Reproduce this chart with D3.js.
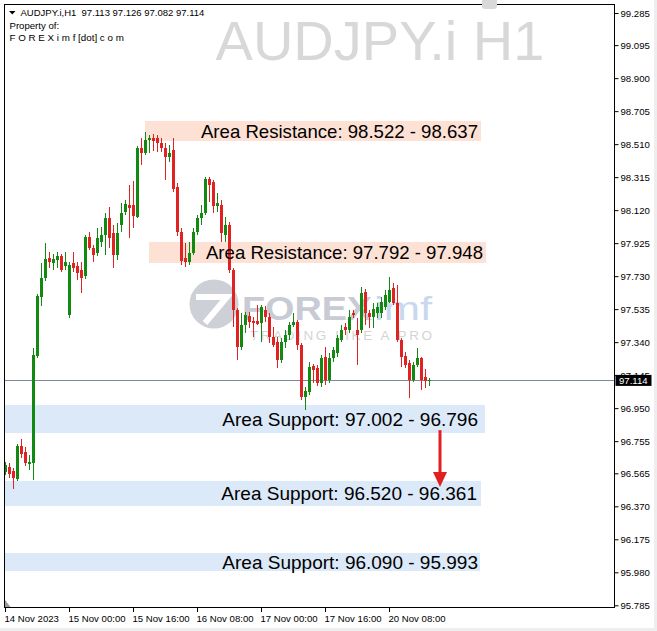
<!DOCTYPE html>
<html><head><meta charset="utf-8">
<script src="https://cdn.jsdelivr.net/npm/d3@7"></script>
<style>
html,body{margin:0;padding:0;background:#fff;}
svg{display:block;font-family:"Liberation Sans",Arial,sans-serif;}
</style></head>
<body><svg id="c" width="657" height="631"></svg>
<script>
// ---------------- DATA ----------------
const opens = [
96.573, 96.602, 96.579, 96.531, 96.726, 96.691, 96.620, 96.626, 97.258, 97.607,
97.719, 97.837, 97.808, 97.825, 97.849, 97.790, 97.501, 97.808, 97.790, 97.766,
97.731, 97.961, 97.896, 97.867, 97.932, 97.973, 98.074, 97.985, 97.855, 98.032,
98.109, 98.150, 98.150, 98.080, 98.487, 98.458, 98.535, 98.546, 98.546, 98.517,
98.487, 98.434, 98.475, 98.257, 97.991, 97.837, 97.814, 97.867, 97.991, 98.074,
98.103, 98.304, 98.286, 98.145, 98.150, 97.973, 98.032, 97.766, 97.530, 97.311,
97.441, 97.495, 97.465, 97.465, 97.453, 97.530, 97.489, 97.370, 97.341, 97.235,
97.341, 97.382, 97.441, 97.459, 97.323, 97.016, 97.045, 97.199, 97.187, 97.099,
97.252, 97.116, 97.246, 97.276, 97.353, 97.430, 97.412, 97.512, 97.412, 97.412,
97.637, 97.512, 97.489, 97.512, 97.512, 97.548, 97.577, 97.660, 97.571, 97.353,
97.258, 97.217, 97.116, 97.205, 97.246, 97.134, 97.113
];
const highs = [
96.632, 96.626, 96.596, 96.738, 96.768, 96.720, 96.673, 97.305, 97.625, 97.808,
97.926, 97.873, 97.861, 97.873, 97.861, 97.873, 97.814, 97.873, 97.814, 97.814,
97.973, 97.991, 97.914, 98.015, 98.020, 98.103, 98.139, 98.032, 98.044, 98.162,
98.180, 98.269, 98.292, 98.499, 98.546, 98.582, 98.564, 98.570, 98.564, 98.546,
98.517, 98.505, 98.546, 98.280, 98.015, 97.926, 97.932, 98.015, 98.091, 98.150,
98.316, 98.316, 98.298, 98.221, 98.180, 98.080, 98.050, 97.778, 97.542, 97.512,
97.518, 97.518, 97.489, 97.560, 97.560, 97.554, 97.512, 97.430, 97.370, 97.364,
97.412, 97.459, 97.512, 97.471, 97.335, 97.075, 97.223, 97.211, 97.205, 97.264,
97.311, 97.276, 97.311, 97.382, 97.441, 97.453, 97.530, 97.530, 97.483, 97.666,
97.654, 97.530, 97.571, 97.571, 97.607, 97.648, 97.725, 97.690, 97.678, 97.364,
97.282, 97.235, 97.223, 97.305, 97.252, 97.181, 97.126
];
const lows = [
96.555, 96.537, 96.472, 96.520, 96.655, 96.608, 96.585, 96.525, 97.246, 97.554,
97.701, 97.778, 97.766, 97.778, 97.755, 97.766, 97.483, 97.755, 97.707, 97.631,
97.713, 97.885, 97.814, 97.849, 97.902, 97.855, 97.896, 97.778, 97.825, 97.991,
98.091, 97.955, 98.015, 98.074, 98.387, 98.446, 98.458, 98.470, 98.464, 98.464,
98.298, 98.405, 98.227, 97.967, 97.796, 97.784, 97.796, 97.855, 97.973, 98.032,
98.091, 98.168, 98.103, 98.109, 97.932, 97.932, 97.749, 97.430, 97.235, 97.294,
97.394, 97.424, 97.370, 97.441, 97.341, 97.459, 97.335, 97.311, 97.187, 97.217,
97.305, 97.353, 97.430, 97.294, 96.998, 96.939, 97.028, 97.099, 97.081, 97.075,
97.087, 97.099, 97.223, 97.252, 97.341, 97.382, 97.394, 97.483, 97.205, 97.394,
97.441, 97.424, 97.424, 97.483, 97.483, 97.530, 97.571, 97.560, 97.341, 97.193,
97.187, 97.010, 97.104, 97.193, 97.057, 97.069, 97.082
];
const closes = [
96.614, 96.561, 96.537, 96.726, 96.679, 96.626, 96.632, 97.264, 97.613, 97.719,
97.831, 97.814, 97.831, 97.849, 97.766, 97.814, 97.796, 97.778, 97.749, 97.719,
97.961, 97.896, 97.855, 97.955, 97.973, 98.074, 97.955, 97.855, 97.985, 98.103,
98.156, 98.133, 98.085, 98.487, 98.458, 98.535, 98.546, 98.529, 98.517, 98.487,
98.434, 98.458, 98.245, 97.991, 97.820, 97.814, 97.867, 97.991, 98.074, 98.103,
98.304, 98.269, 98.145, 98.162, 97.985, 98.032, 97.766, 97.530, 97.311, 97.441,
97.501, 97.459, 97.453, 97.447, 97.548, 97.489, 97.370, 97.323, 97.235, 97.341,
97.382, 97.441, 97.459, 97.323, 97.016, 97.051, 97.193, 97.175, 97.099, 97.246,
97.116, 97.246, 97.294, 97.364, 97.412, 97.412, 97.489, 97.501, 97.382, 97.631,
97.512, 97.489, 97.536, 97.548, 97.577, 97.619, 97.648, 97.571, 97.353, 97.252,
97.205, 97.116, 97.205, 97.246, 97.116, 97.110, 97.114
];

const xTickBars = [0, 16, 32, 48, 64, 80, 96];
const xTickLabels = ["14 Nov 2023", "15 Nov 00:00", "15 Nov 16:00", "16 Nov 08:00",
                     "17 Nov 00:00", "17 Nov 16:00", "20 Nov 08:00"];
const yTicks = [99.285, 99.095, 98.900, 98.705, 98.510, 98.315, 98.120, 97.925, 97.730,
                97.535, 97.340, 97.145, 96.950, 96.755, 96.565, 96.370, 96.175, 95.980, 95.785];

const zoneTypes  = ["res", "res", "sup", "sup", "sup"];
const zoneTop    = [98.647, 97.932, 96.969, 96.520, 96.094];
const zoneBottom = [98.529, 97.808, 96.803, 96.372, 95.988];
const zoneFromBar = [35, 36, -0.25, -0.25, -0.25];
const zoneToBar   = [119, 120.25, 120, 119, 118.75];
const zoneLabels = ["Area Resistance: 98.522 - 98.637", "Area Resistance: 97.792 - 97.948",
                    "Area Support: 97.002 - 96.796", "Area Support: 96.520 - 96.361",
                    "Area Support: 96.090 - 95.993"];

const arrowBar = 108.75, arrowFrom = 96.82, arrowTo = 96.484;
const lastPrice = 97.114;
const headerText = "AUDJPY.i,H1  97.113 97.126 97.082 97.114";

// ---------------- LAYOUT ----------------
const W = 657, H = 631;
const plot = {l: 4.5, t: 4.5, r: 614.5, b: 607.5};
const GREEN = "#128a12", RED = "#e02222";
const labelInset = [3, 3, 7, 4, 2];

const svg = d3.select("#c");
svg.append("rect").attr("width", W).attr("height", H).attr("fill", "#fff");

const x = d3.scaleLinear().domain([0, opens.length - 1]).range([5, 429]);
const y = d3.scaleLinear().domain([95.785, 99.285]).range([605.3, 13]);

svg.append("clipPath").attr("id", "pc").append("rect")
  .attr("x", plot.l).attr("y", plot.t).attr("width", plot.r - plot.l).attr("height", plot.b - plot.t);
const g = svg.append("g").attr("clip-path", "url(#pc)");

// watermark text
g.append("text").attr("x", 380).attr("y", 60).attr("text-anchor", "middle")
  .attr("font-size", 56).attr("fill", "#d8d8d8").text("AUDJPY.i H1");

// logo watermark
const logo = g.append("g");
logo.append("circle").attr("cx", 214).attr("cy", 304).attr("r", 24.5).attr("fill", "#ced0d8");
logo.append("path").attr("d", "M196,297 L227,297 L205,323")
  .attr("fill", "none").attr("stroke", "#fff").attr("stroke-width", 6).attr("stroke-linejoin", "miter");
logo.append("text").attr("x", 242).attr("y", 320).attr("font-size", 34).attr("font-weight", "bold")
  .attr("fill", "#c9cbd4").attr("textLength", 130).attr("lengthAdjust", "spacingAndGlyphs").text("FOREX");
logo.append("text").attr("x", 374).attr("y", 320).attr("font-size", 33)
  .attr("fill", "#c8d8ee").attr("textLength", 58).attr("lengthAdjust", "spacingAndGlyphs").text("imf");
logo.append("text").attr("x", 250).attr("y", 339.5).attr("font-size", 13.5)
  .attr("fill", "#d4d4d4").attr("textLength", 182).attr("lengthAdjust", "spacing").text("TRADING LIKE A PRO");

// zones
const zones = zoneTypes.map((t, i) => ({t, top: zoneTop[i], bot: zoneBottom[i], a: zoneFromBar[i], b: zoneToBar[i], label: zoneLabels[i], inset: labelInset[i]}));
g.selectAll("rect.zone").data(zones).join("rect").attr("class", "zone")
  .attr("x", d => x(d.a)).attr("width", d => x(d.b) - x(d.a))
  .attr("y", d => y(d.top)).attr("height", d => y(d.bot) - y(d.top))
  .attr("fill", d => d.t === "res" ? "#fde1d5" : "#dbe9f8");

// bid line
g.append("line").attr("x1", plot.l).attr("x2", plot.r)
  .attr("y1", Math.round(y(lastPrice)) + 0.5).attr("y2", Math.round(y(lastPrice)) + 0.5)
  .attr("stroke", "#7c8898").attr("stroke-width", 1);

// candles
const candles = opens.map((o, i) => ({i, o, h: highs[i], l: lows[i], c: closes[i]}));
const cg = g.append("g");
cg.selectAll("rect.wick").data(candles).join("rect").attr("class", "wick")
  .attr("x", d => Math.round(x(d.i))).attr("width", 1)
  .attr("y", d => Math.round(y(d.h))).attr("height", d => Math.max(1, Math.round(y(d.l)) - Math.round(y(d.h))))
  .attr("fill", d => d.c >= d.o ? GREEN : RED);
cg.selectAll("rect.body").data(candles).join("rect").attr("class", "body")
  .attr("x", d => Math.round(x(d.i)) - 1).attr("width", 3)
  .attr("y", d => Math.round(y(Math.max(d.o, d.c))))
  .attr("height", d => Math.max(1, Math.round(y(Math.min(d.o, d.c))) - Math.round(y(Math.max(d.o, d.c)))))
  .attr("fill", d => d.c >= d.o ? GREEN : RED);

// zone labels
g.selectAll("text.zl").data(zones).join("text").attr("class", "zl")
  .attr("x", d => x(d.b) - d.inset).attr("y", d => y((d.top + d.bot) / 2)).attr("dy", "0.36em")
  .attr("text-anchor", "end").attr("font-size", d => d.t === "res" ? 18.6 : 19.0)
  .attr("fill", "#000").text(d => d.label);

// arrow
const ax = x(arrowBar), ay1 = y(arrowFrom), ay2 = y(arrowTo);
g.append("line").attr("x1", ax).attr("x2", ax).attr("y1", ay1).attr("y2", ay2 - 12)
  .attr("stroke", "#e02020").attr("stroke-width", 3);
g.append("path").attr("d", `M${ax - 7},${ay2 - 15} L${ax + 7},${ay2 - 15} L${ax},${ay2} Z`).attr("fill", "#e02020");

// small shift marker
g.append("path").attr("d", "M5,600 L5,607.5 L11,607.5 Z").attr("fill", "#9a9a9a");

// frame
svg.append("rect").attr("x", plot.l).attr("y", plot.t).attr("width", plot.r - plot.l).attr("height", plot.b - plot.t)
  .attr("fill", "none").attr("stroke", "#000").attr("stroke-width", 1);

// y axis
const yAxis = d3.axisRight(y).tickValues(yTicks).tickFormat(d3.format(".3f")).tickSize(4).tickPadding(2);
const ya = svg.append("g").attr("transform", `translate(${plot.r},0)`).call(yAxis);
ya.select(".domain").remove();
ya.selectAll("text").attr("font-size", 9.6).attr("font-family", "Liberation Sans, Arial, sans-serif").attr("fill", "#000");
ya.selectAll("line").attr("stroke", "#000");

// price box
const py = y(lastPrice);
svg.append("rect").attr("x", 615.5).attr("y", py - 5.5).attr("width", 36).attr("height", 11).attr("fill", "#000");
svg.append("text").attr("x", 619).attr("y", py).attr("dy", "0.35em").attr("font-size", 9.6)
  .attr("fill", "#fff").text(d3.format(".3f")(lastPrice));

// x axis
const xa = svg.append("g");
xa.selectAll("line").data(xTickBars).join("line")
  .attr("x1", d => Math.round(x(d)) + 0.5).attr("x2", d => Math.round(x(d)) + 0.5)
  .attr("y1", plot.b).attr("y2", plot.b + 4.5).attr("stroke", "#000");
xa.selectAll("text").data(xTickBars).join("text")
  .attr("x", d => Math.round(x(d)) - 0.5).attr("y", 621.5).attr("font-size", 9.6).attr("fill", "#000")
  .text((d, i) => xTickLabels[i]);

// header
svg.append("path").attr("d", "M9,11 L15.5,11 L12.25,14.5 Z").attr("fill", "#000");
svg.append("text").attr("x", 20.5).attr("y", 16).attr("font-size", 9.5).attr("fill", "#000")
  .style("white-space", "pre").text(headerText);
svg.append("text").attr("x", 9.5).attr("y", 28.5).attr("font-size", 9.6).attr("fill", "#000").text("Property of:");
svg.append("text").attr("x", 9.5).attr("y", 41).attr("font-size", 9.8).attr("fill", "#000")
  .style("white-space", "pre").text("F O R E X i m f [dot] c o m");

// window chrome
svg.append("rect").attr("x", 482).attr("y", -4).attr("width", 15).attr("height", 13).attr("rx", 3).attr("fill", "#d9d9d9");
svg.append("rect").attr("x", 654).attr("y", 0).attr("width", 3).attr("height", H).attr("fill", "#eeeeee");
svg.append("rect").attr("x", 0).attr("y", 628).attr("width", W).attr("height", 3).attr("fill", "#eeeeee");
</script>
</body></html>
